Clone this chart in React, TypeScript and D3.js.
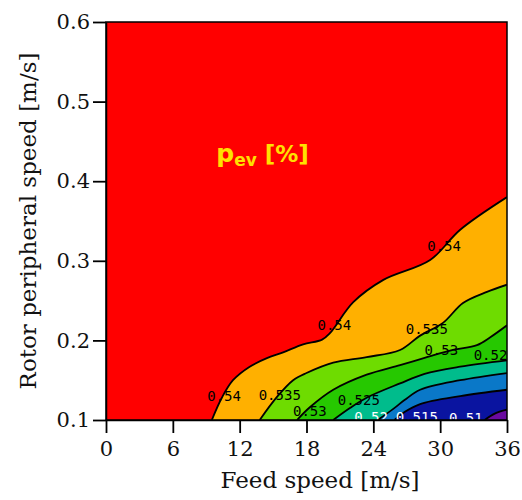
import React, { useEffect, useRef } from 'react';
import * as d3 from 'd3';

const W = 522;
const H = 500;

// axis ticks
const xTicks = [0, 6, 12, 18, 24, 30, 36];
const yTicks = [0.1, 0.2, 0.3, 0.4, 0.5, 0.6];

// contour levels (isolines), colour of the band just below each level
const levels = [0.54, 0.535, 0.53, 0.525, 0.52, 0.515, 0.51];
const bandColors = ['#FFB000', '#6EDC00', '#26C800', '#00BC8C', '#0A78C8', '#0A14A0', '#6A0AA0'];
const topColor = '#FF0000';

// isolines (feed speed x, rotor speed y)
const iso054X = [9.5, 10.4, 11.4, 12.9, 14.5, 15.9, 17.7, 19.4, 20.1, 22.2, 24.9, 29.1, 31.8, 36];
const iso054Y = [0.1, 0.128, 0.15, 0.167, 0.178, 0.185, 0.195, 0.201, 0.209, 0.248, 0.276, 0.301, 0.339, 0.38];
const iso0535X = [13.8, 15.35, 16.8, 18.0, 20.4, 23.4, 26.4, 28.2, 30.25, 32.05, 34.2, 36];
const iso0535Y = [0.1, 0.129, 0.15, 0.159, 0.172, 0.179, 0.188, 0.206, 0.222, 0.247, 0.261, 0.27];
const iso053X = [17.15, 18.3, 20.4, 23.4, 26.4, 28.6, 31.15, 33.3, 34.5, 36];
const iso053Y = [0.1, 0.116, 0.138, 0.157, 0.169, 0.178, 0.188, 0.194, 0.204, 0.219];
const iso0525X = [20.4, 21.9, 23.4, 26.4, 28.6, 31.8, 36];
const iso0525Y = [0.1, 0.115, 0.128, 0.146, 0.158, 0.167, 0.175];
const iso052X = [24.4, 25.7, 26.8, 28.2, 31.8, 36];
const iso052Y = [0.1, 0.113, 0.125, 0.138, 0.15, 0.159];
const iso0515X = [25.9, 26.8, 28.2, 31.8, 36];
const iso0515Y = [0.1, 0.11, 0.12, 0.13, 0.138];
const iso051X = [34.0, 34.9, 36];
const iso051Y = [0.1, 0.108, 0.113];

const isoX = [iso054X, iso0535X, iso053X, iso0525X, iso052X, iso0515X, iso051X];
const isoY = [iso054Y, iso0535Y, iso053Y, iso0525Y, iso052Y, iso0515Y, iso051Y];

// contour labels
const labelText = ['0.54', '0.54', '0.54', '0.535', '0.535', '0.53', '0.53', '0.525', '0.525', '0.52', '0.515', '0.51'];
const labelX = [30.35, 20.5, 10.6, 28.8, 15.6, 30.1, 18.3, 22.7, 34.9, 23.8, 27.9, 32.3];
const labelY = [0.319, 0.219, 0.13, 0.214, 0.132, 0.188, 0.111, 0.125, 0.182, 0.104, 0.104, 0.103];
const labelWhite = [false, false, false, false, false, false, false, false, false, true, true, true];

export default function App() {
  const ref = useRef<SVGSVGElement | null>(null);

  useEffect(() => {
    const svg = d3.select(ref.current);
    svg.selectAll('*').remove();

    const x = d3.scaleLinear().domain([0, 36]).range([106, 507]);
    const y = d3.scaleLinear().domain([0.1, 0.6]).range([420, 22]);

    const defs = svg.append('defs');
    defs.append('clipPath').attr('id', 'plotclip')
      .append('rect')
      .attr('x', x(0)).attr('y', y(0.6))
      .attr('width', x(36) - x(0)).attr('height', y(0.1) - y(0.6));

    const plot = svg.append('g').attr('clip-path', 'url(#plotclip)');

    plot.append('rect')
      .attr('x', x(0)).attr('y', y(0.6))
      .attr('width', x(36) - x(0)).attr('height', y(0.1) - y(0.6))
      .attr('fill', topColor);

    const line = d3.line<[number, number]>()
      .x(d => x(d[0]))
      .y(d => y(d[1]))
      .curve(d3.curveCatmullRom.alpha(0.5));

    levels.forEach((lv, i) => {
      const pts: [number, number][] = isoX[i].map((vx, j) => [vx, isoY[i][j]]);
      const p = line(pts) as string;
      plot.append('path')
        .attr('d', `${p}L${x(36)},${y(0.1)}Z`)
        .attr('fill', bandColors[i])
        .attr('stroke', 'none');
    });

    levels.forEach((lv, i) => {
      const pts: [number, number][] = isoX[i].map((vx, j) => [vx, isoY[i][j]]);
      plot.append('path')
        .attr('d', line(pts) as string)
        .attr('fill', 'none')
        .attr('stroke', '#000')
        .attr('stroke-width', 1.8);
    });

    labelText.forEach((t, i) => {
      plot.append('text')
        .attr('x', x(labelX[i]))
        .attr('y', y(labelY[i]))
        .attr('text-anchor', 'middle')
        .attr('dominant-baseline', 'central')
        .attr('font-family', '"DejaVu Sans Mono", monospace')
        .attr('font-size', 14)
        .attr('fill', labelWhite[i] ? '#ffffff' : '#000000')
        .text(t);
    });

    // title inside the plot: p_ev [%]
    const title = plot.append('text')
      .attr('x', x(9.9))
      .attr('y', y(0.424))
      .attr('font-family', '"DejaVu Sans", sans-serif')
      .attr('font-weight', 'bold')
      .attr('fill', '#FFE000');
    title.append('tspan').attr('font-size', 25).text('p');
    title.append('tspan').attr('font-size', 17).attr('dy', 4).text('ev');
    title.append('tspan').attr('font-size', 23).attr('dy', -4).text(' [%]');

    // frame
    svg.append('rect')
      .attr('x', x(0)).attr('y', y(0.6))
      .attr('width', x(36) - x(0)).attr('height', y(0.1) - y(0.6))
      .attr('fill', 'none')
      .attr('stroke', '#000')
      .attr('stroke-width', 1.5);

    const fontTick = '"DejaVu Serif", serif';

    const gx = svg.append('g')
      .attr('transform', `translate(0,${y(0.1)})`)
      .call(d3.axisBottom(x).tickValues(xTicks).tickSize(13).tickSizeOuter(0).tickPadding(8).tickFormat(d3.format('d')));
    gx.select('.domain').attr('stroke', '#000').attr('stroke-width', 1.5);
    gx.selectAll('.tick line').attr('stroke', '#000').attr('stroke-width', 1.8);
    gx.selectAll('.tick text').attr('font-family', fontTick).attr('font-size', 21).attr('fill', '#111');

    const gy = svg.append('g')
      .attr('transform', `translate(${x(0)},0)`)
      .call(d3.axisLeft(y).tickValues(yTicks).tickSize(13).tickSizeOuter(0).tickPadding(3).tickFormat(d3.format('.1f')));
    gy.select('.domain').attr('stroke', '#000').attr('stroke-width', 1.5);
    gy.selectAll('.tick line').attr('stroke', '#000').attr('stroke-width', 1.8);
    gy.selectAll('.tick text').attr('font-family', fontTick).attr('font-size', 21).attr('fill', '#111');

    svg.append('text')
      .attr('x', 320)
      .attr('y', 488)
      .attr('text-anchor', 'middle')
      .attr('font-family', fontTick)
      .attr('font-size', 23)
      .attr('fill', '#111')
      .text('Feed speed [m/s]');

    svg.append('text')
      .attr('transform', `translate(36,${(y(0.1) + y(0.6)) / 2}) rotate(-90)`)
      .attr('text-anchor', 'middle')
      .attr('font-family', fontTick)
      .attr('font-size', 23)
      .attr('fill', '#111')
      .text('Rotor peripheral speed [m/s]');
  }, []);

  return (
    <svg
      ref={ref}
      width={W}
      height={H}
      style={{ position: 'absolute', left: 0, top: 0, background: '#fff' }}
    />
  );
}
